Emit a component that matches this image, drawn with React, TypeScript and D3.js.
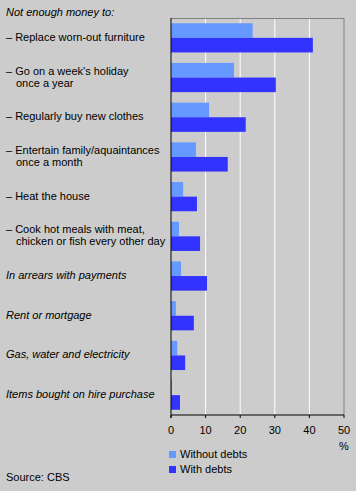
import React from "react";
import * as d3 from "d3";

const categories: string[][] = [
  ["– Replace worn-out furniture"],
  ["– Go on a week's holiday", "once a year"],
  ["– Regularly buy new clothes"],
  ["– Entertain family/aquaintances", "once a month"],
  ["– Heat the house"],
  ["– Cook hot meals with meat,", "chicken or fish every other day"],
  ["In arrears with payments"],
  ["Rent or mortgage"],
  ["Gas, water and electricity"],
  ["Items bought on hire purchase"],
];
const italicRows = [false, false, false, false, false, false, true, true, true, true];
const withoutDebts = [23.6, 18.2, 11.0, 7.2, 3.5, 2.3, 2.9, 1.4, 1.8, 0.3];
const withDebts = [41.0, 30.3, 21.6, 16.4, 7.5, 8.4, 10.4, 6.6, 4.1, 2.6];
const xTicks = [0, 10, 20, 30, 40, 50];
const seriesNames = ["Without debts", "With debts"];
const title = "Not enough money to:";
const source = "Source: CBS";

const W = 356, H = 491;
const left = 171, right = 344, top = 18, bottom = 415;
const LIGHT = "#6699FF", DARK = "#3333FF";
const FONT = "'Liberation Sans', Arial, sans-serif";

export default function App() {
  const x = d3.scaleLinear().domain([0, 50]).range([left, right]);
  const idx = categories.map((_, i) => String(i));
  const y = d3.scaleBand().domain(idx).range([top, bottom]).padding(0);
  const y1 = d3.scaleBand().domain(["w", "d"]).range([0, y.bandwidth()]).paddingInner(0).paddingOuter(0.36);

  return (
    <div style={{ position: "absolute", left: 0, top: 0 }}>
      <svg width={W} height={H} style={{ display: "block", fontFamily: FONT }}>
        <rect x={0} y={0} width={W} height={H} fill="#CCCCCC" />
        {xTicks.slice(1, -1).map((t) => (
          <line key={t} x1={x(t)} x2={x(t)} y1={top} y2={bottom} stroke="#FFFFFF" strokeWidth={1} />
        ))}
        <line x1={left} x2={right} y1={top + 0.5} y2={top + 0.5} stroke="#808080" />
        <line x1={right} x2={right} y1={top} y2={bottom} stroke="#808080" />
        {idx.map((k, i) => (
          <g key={k}>
            <rect x={x(0)} y={(y(k) as number) + (y1("w") as number)} width={x(withoutDebts[i]) - x(0)} height={y1.bandwidth()} fill={LIGHT} />
            <rect x={x(0)} y={(y(k) as number) + (y1("d") as number)} width={x(withDebts[i]) - x(0)} height={y1.bandwidth()} fill={DARK} />
          </g>
        ))}
        <line x1={left} x2={left} y1={top} y2={bottom + 3} stroke="#000" />
        <line x1={left} x2={right} y1={bottom} y2={bottom} stroke="#000" />
        {xTicks.map((t) => (
          <g key={t}>
            <line x1={x(t)} x2={x(t)} y1={bottom} y2={bottom + 3} stroke="#000" />
            <text x={x(t)} y={434} textAnchor="middle" fontSize={11} fill="#000">{t}</text>
          </g>
        ))}
        <text x={x(50)} y={450} textAnchor="middle" fontSize={11} fill="#000">%</text>
        <text x={6} y={16} fontSize={11} fontStyle="italic" fill="#000">{title}</text>
        {categories.map((lines, i) => {
          const cy = (y(String(i)) as number) + y.bandwidth() / 2 - 1;
          const n = lines.length;
          return lines.map((ln, j) => {
            const yy = cy + (j - (n - 1) / 2) * 12 + 4;
            const italic = italicRows[i];
            const xx = italic ? 6 : j === 0 ? 6 : 16;
            return (
              <text key={i + "-" + j} x={xx} y={yy} fontSize={11} fontStyle={italic ? "italic" : "normal"} fill="#000">{ln}</text>
            );
          });
        })}
        {seriesNames.map((s, i) => (
          <g key={s}>
            <rect x={169} y={451 + i * 15} width={7} height={7} fill={i === 0 ? LIGHT : DARK} />
            <text x={180} y={458 + i * 15} fontSize={11} fill="#000">{s}</text>
          </g>
        ))}
        <text x={6} y={481} fontSize={11} fill="#000">{source}</text>
      </svg>
    </div>
  );
}
